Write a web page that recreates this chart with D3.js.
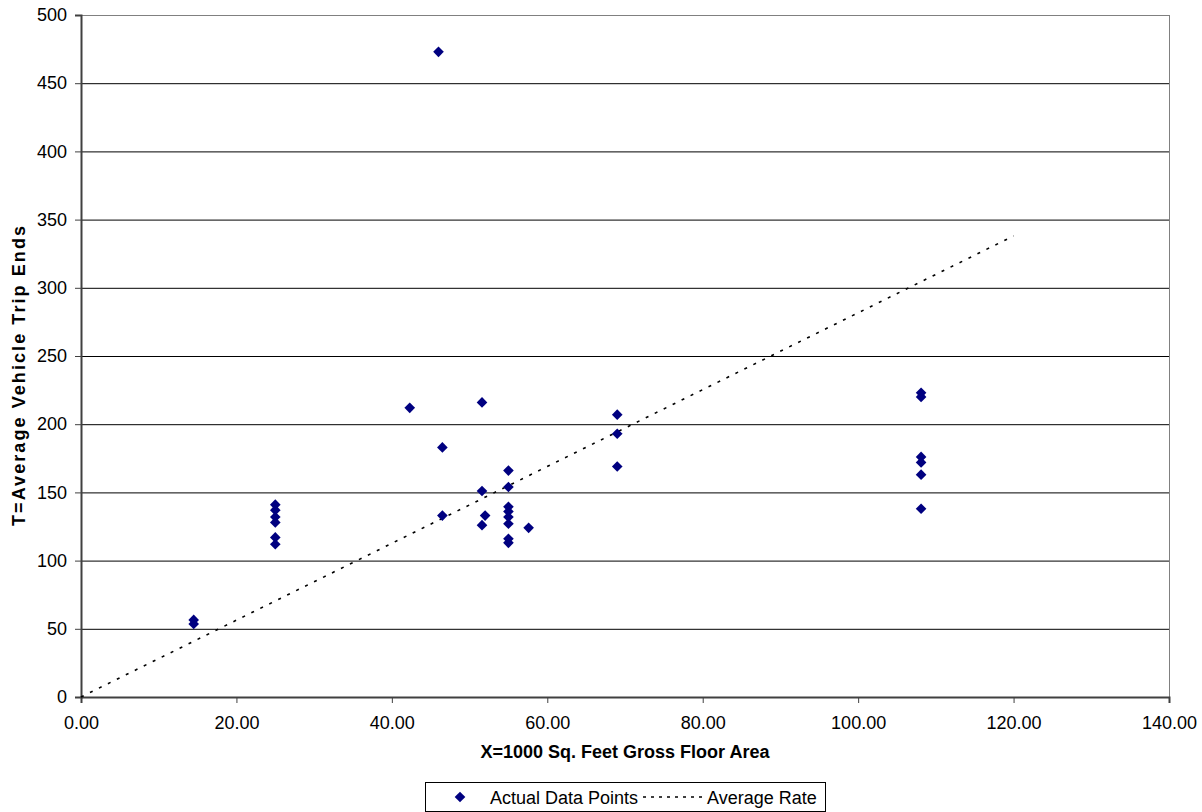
<!DOCTYPE html>
<html>
<head>
<meta charset="utf-8">
<script src="https://cdn.jsdelivr.net/npm/d3@7"></script>
<style>
  html, body { margin: 0; padding: 0; background: #fff; }
  svg { display: block; font-family: "Liberation Sans", Arial, sans-serif; }
</style>
</head>
<body>
<svg id="chart" width="1202" height="812"></svg>
<script>
// Data
const xValues = [14.5, 14.5,
  25, 25, 25, 25, 25, 25,
  42.3, 46.0, 46.5, 46.5,
  51.6, 51.6, 51.6, 52.0,
  55, 55, 55, 55, 55, 55, 55, 55,
  57.6,
  69, 69, 69,
  108.1, 108.1, 108.1, 108.1, 108.1, 108.1];
const yValues = [56.5, 53.5,
  141, 137, 132, 128, 117, 112,
  212, 473, 183, 133,
  216, 151, 126, 133,
  166, 154, 139.5, 136, 132, 127, 116, 113,
  124,
  207, 193, 169,
  223, 220, 176, 172, 163, 138];
const avgRateX = [0, 120];
const avgRateY = [0, 338];
const xTicks = [0, 20, 40, 60, 80, 100, 120, 140];
const yTicks = [0, 50, 100, 150, 200, 250, 300, 350, 400, 450, 500];
const xTitle = "X=1000 Sq. Feet Gross Floor Area";
const yTitle = "T=Average Vehicle Trip Ends";
const legendLabels = ["Actual Data Points", "Average Rate"];

const FONT = "Liberation Sans, Arial, sans-serif";
const svg = d3.select("#chart");
const L = 81, R = 1169, T = 15, B = 697;
const x = d3.scaleLinear().domain([0, 140]).range([L, R]);
const y = d3.scaleLinear().domain([0, 500]).range([B, T]);

// gridlines
svg.append("g").selectAll("line").data(yTicks.filter(d => d > 0 && d < 500)).join("line")
  .attr("x1", L).attr("x2", R)
  .attr("y1", d => y(d) + 0.5).attr("y2", d => y(d) + 0.5)
  .attr("stroke", "#000").attr("stroke-width", 1);

// plot border top & right
svg.append("line").attr("x1", L).attr("x2", R).attr("y1", T + 0.5).attr("y2", T + 0.5)
  .attr("stroke", "#808080").attr("stroke-width", 1);
svg.append("line").attr("x1", R + 0.5).attr("x2", R + 0.5).attr("y1", T).attr("y2", B)
  .attr("stroke", "#808080").attr("stroke-width", 1);

// axes
const xAxis = d3.axisBottom(x).tickValues(xTicks).tickFormat(d3.format(".2f")).tickSizeOuter(0).tickSize(6).tickPadding(13);
const gx = svg.append("g").attr("transform", `translate(0,${B})`).call(xAxis);
gx.select(".domain").attr("stroke", "#404040").attr("stroke-width", 2);
gx.selectAll(".tick line").attr("stroke", "#404040");
gx.selectAll("text").attr("font-size", 18).attr("fill", "#000").attr("font-family", FONT);

const yAxis = d3.axisLeft(y).tickValues(yTicks).tickFormat(d3.format("d")).tickSizeOuter(0).tickSize(6).tickPadding(8);
const gy = svg.append("g").attr("transform", `translate(${L},0)`).call(yAxis);
gy.select(".domain").attr("stroke", "#404040").attr("stroke-width", 2);
gy.selectAll(".tick line").attr("stroke", "#404040");
gy.selectAll("text").attr("font-size", 18).attr("fill", "#000").attr("font-family", FONT);

// average rate line
const line = d3.line().x(d => x(d[0])).y(d => y(d[1]));
svg.append("path")
  .datum(avgRateX.map((v, i) => [v, avgRateY[i]]))
  .attr("d", line)
  .attr("fill", "none").attr("stroke", "#000").attr("stroke-width", 1.6)
  .attr("stroke-dasharray", "3,7");

// points
const diamond = d3.symbol().type(d3.symbolDiamond2).size(72);
svg.append("g").selectAll("path").data(xValues.map((v, i) => [v, yValues[i]])).join("path")
  .attr("d", diamond)
  .attr("transform", d => `translate(${x(d[0])},${y(d[1])})`)
  .attr("fill", "#000080");

// titles
svg.append("text").attr("x", (L + R) / 2).attr("y", 758).attr("text-anchor", "middle")
  .attr("font-size", 18).attr("font-weight", "bold").attr("font-family", FONT).text(xTitle);
svg.append("text").attr("transform", `translate(25,376) rotate(-90)`).attr("text-anchor", "middle")
  .attr("font-size", 18).attr("font-weight", "bold").attr("font-family", FONT)
  .attr("textLength", 300).attr("lengthAdjust", "spacing").text(yTitle);

// legend
const lg = svg.append("g");
lg.append("rect").attr("x", 425.5).attr("y", 782.5).attr("width", 400).attr("height", 29)
  .attr("fill", "#fff").attr("stroke", "#000").attr("stroke-width", 1);
lg.append("path").attr("d", diamond).attr("transform", "translate(460,797)").attr("fill", "#000080");
lg.append("text").attr("x", 490).attr("y", 804).attr("font-size", 18).attr("font-family", FONT).text(legendLabels[0]);
lg.append("line").attr("x1", 643).attr("x2", 704).attr("y1", 797).attr("y2", 797)
  .attr("stroke", "#000").attr("stroke-width", 1.5).attr("stroke-dasharray", "3,5");
lg.append("text").attr("x", 707).attr("y", 804).attr("font-size", 18).attr("font-family", FONT).text(legendLabels[1]);
</script>
</body>
</html>
